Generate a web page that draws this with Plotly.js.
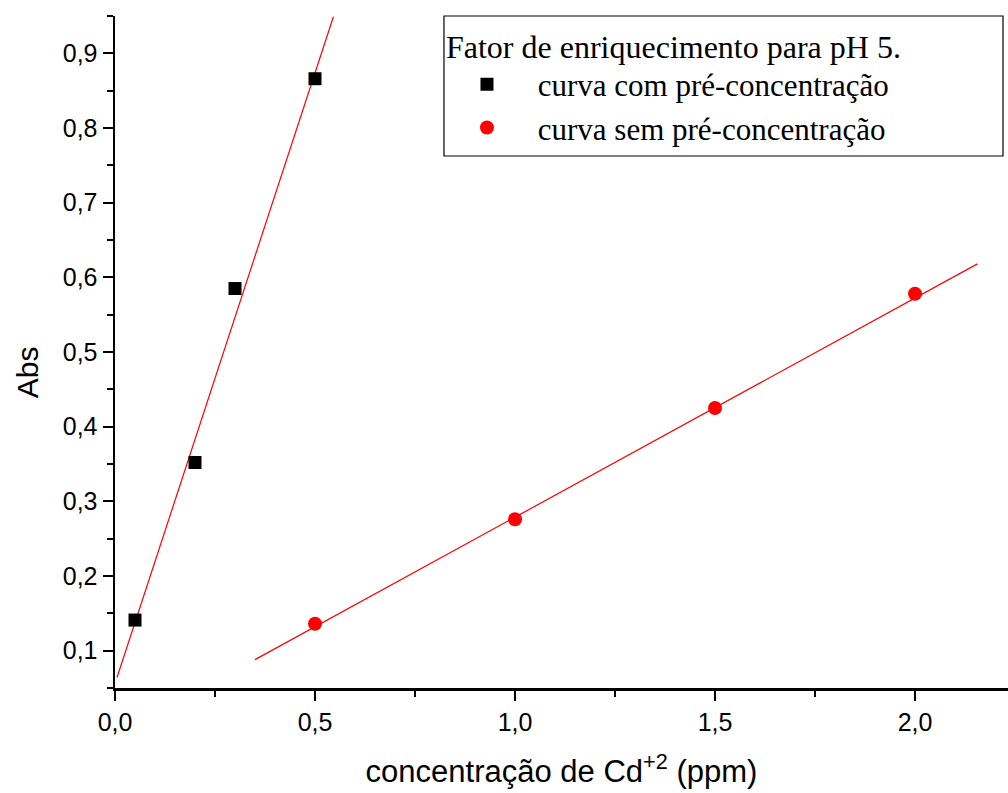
<!DOCTYPE html>
<html>
<head>
<meta charset="utf-8">
<script src="https://cdn.plot.ly/plotly-3.0.1.min.js"></script>
<style>html,body{margin:0;padding:0;background:#fff;}#chart{width:1008px;height:793px;}</style>
</head>
<body>
<div id="chart"></div>
<script>
// Data
const comX = [0.05, 0.2, 0.3, 0.5];
const comY = [0.141, 0.352, 0.585, 0.866];
const semX = [0.5, 1.0, 1.5, 2.0];
const semY = [0.136, 0.276, 0.425, 0.578];
// fitted straight lines as drawn in the reference (end points)
const fitComX = [0.005, 0.546];
const fitComY = [0.064, 0.949];
const fitSemX = [0.35, 2.156];
const fitSemY = [0.088, 0.618];

const xTickVals = [0, 0.5, 1.0, 1.5, 2.0];
const xTickText = ['0,0', '0,5', '1,0', '1,5', '2,0'];
const xMinorVals = [0.25, 0.75, 1.25, 1.75, 2.25];
const yTickVals = [0.1, 0.2, 0.3, 0.4, 0.5, 0.6, 0.7, 0.8, 0.9];
const yTickText = ['0,1', '0,2', '0,3', '0,4', '0,5', '0,6', '0,7', '0,8', '0,9'];
const yMinorVals = [0.05, 0.15, 0.25, 0.35, 0.45, 0.55, 0.65, 0.75, 0.85, 0.95];

const legendTitle = 'Fator de enriquecimento para pH 5.';
const nameCom = 'curva com pré-concentração';
const nameSem = 'curva sem pré-concentração';
const yTitle = 'Abs';

const sans = 'Liberation Sans, Arial, sans-serif';
const serif = 'Liberation Serif, Times New Roman, serif';

const traces = [
  {x: fitComX, y: fitComY, mode: 'lines', line: {color: '#ff0000', width: 1.2}, showlegend: false, hoverinfo: 'skip'},
  {x: fitSemX, y: fitSemY, mode: 'lines', line: {color: '#ff0000', width: 1.2}, showlegend: false, hoverinfo: 'skip'},
  {x: comX, y: comY, mode: 'markers', name: '\u00a0' + nameCom,
   marker: {symbol: 'square', size: 13, color: '#000000'}},
  {x: semX, y: semY, mode: 'markers', name: '\u00a0' + nameSem,
   marker: {symbol: 'circle', size: 14, color: '#ff0000', line: {width: 0}}}
];

const axisCommon = {
  showline: true, linecolor: '#000', linewidth: 2.5,
  ticks: 'outside', ticklen: 10, tickwidth: 2, tickcolor: '#000',
  showgrid: false, zeroline: false, mirror: false,
  tickfont: {family: sans, size: 25, color: '#000'},
  tickmode: 'array'
};

const layout = {
  width: 1008, height: 793,
  paper_bgcolor: '#fff', plot_bgcolor: '#fff',
  margin: {l: 115, r: 0, t: 16, b: 105},
  showlegend: true,
  xaxis: Object.assign({}, axisCommon, {
    range: [0, 2.2325],
    tickvals: xTickVals, ticktext: xTickText,
    minor: {tickmode: 'array', tickvals: xMinorVals, ticks: 'outside', ticklen: 6, tickwidth: 2, tickcolor: '#000', showgrid: false},
    title: {text: 'concentração de Cd<sup>+2</sup> (ppm)', font: {family: sans, size: 31, color: '#000'}, standoff: 26}
  }),
  yaxis: Object.assign({}, axisCommon, {
    range: [0.05, 0.95],
    tickvals: yTickVals, ticktext: yTickText,
    minor: {tickmode: 'array', tickvals: yMinorVals, ticks: 'outside', ticklen: 6, tickwidth: 2, tickcolor: '#000', showgrid: false}
  }),
  annotations: [{
    text: yTitle, xref: 'paper', yref: 'paper', x: -0.0985, y: 0.470,
    xanchor: 'center', yanchor: 'middle', textangle: -90, showarrow: false,
    font: {family: sans, size: 30, color: '#000'}
  }],
  shapes: [{
    type: 'rect', xref: 'paper', yref: 'paper', layer: 'below',
    x0: 0.3684, x1: 0.9944, y0: 0.7917, y1: 1,
    line: {color: '#000', width: 1.2}, fillcolor: '#fff'
  }],
  legend: {
    x: 0.3684, y: 1, xanchor: 'left', yanchor: 'top',
    bgcolor: 'rgba(255,255,255,0)', borderwidth: 0,
    font: {family: serif, size: 31, color: '#000'},
    title: {text: legendTitle, font: {family: serif, size: 32, color: '#000'}},
    itemwidth: 76,
    tracegroupgap: 0
  }
};

Plotly.newPlot('chart', traces, layout, {displayModeBar: false, staticPlot: true});
</script>
</body>
</html>
